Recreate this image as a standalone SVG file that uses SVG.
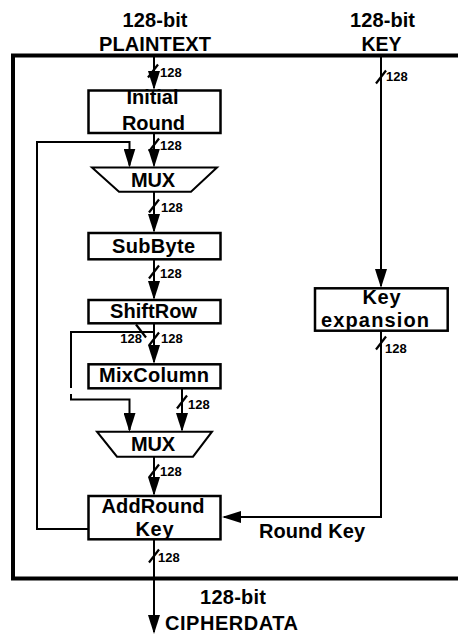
<svg xmlns="http://www.w3.org/2000/svg" width="458" height="635" viewBox="0 0 458 635">
  <style>
    .box{fill:#fff;stroke:#000;stroke-width:2.5}
    .mux{fill:#fff;stroke:#000;stroke-width:2}
    .frame{fill:none;stroke:#000;stroke-width:4}
    .wire{fill:none;stroke:#000;stroke-width:2}
    .arrow{marker-end:url(#ah)}
    .t{font-family:"Liberation Sans",Arial,sans-serif;font-weight:bold;font-size:20px;fill:#000;text-anchor:middle}
    .w{font-family:"Liberation Sans",Arial,sans-serif;font-weight:bold;font-size:13px;fill:#000}
  </style>
  <defs>
    <marker id="ah" viewBox="0 0 19 12" refX="17" refY="6" markerWidth="19" markerHeight="12" markerUnits="userSpaceOnUse" orient="auto">
      <path d="M0,0 L19,6 L0,12 Z" fill="#000"/>
    </marker>
    <!-- bus-width slash -->
    <path id="tick" d="M-5,6.5 L5,-6.5" stroke="#000" stroke-width="2.2" fill="none"/>
  </defs>

  <!-- enclosing frame (open on the right) -->
  <rect id="frame" class="frame" x="13" y="55.5" width="460" height="523"/>

  <!-- titles outside the frame -->
  <g id="plaintext-label">
    <text class="t" x="155" y="27" textLength="65" lengthAdjust="spacing">128-bit</text>
    <text class="t" x="155" y="51" textLength="112" lengthAdjust="spacing">PLAINTEXT</text>
  </g>
  <g id="key-label">
    <text class="t" x="382.5" y="27" textLength="65" lengthAdjust="spacing">128-bit</text>
    <text class="t" x="381.5" y="51" textLength="40" lengthAdjust="spacingAndGlyphs">KEY</text>
  </g>
  <g id="cipher-label">
    <text class="t" x="233" y="604" textLength="66" lengthAdjust="spacing">128-bit</text>
    <text class="t" x="231.5" y="629.5" textLength="133" lengthAdjust="spacing">CIPHERDATA</text>
  </g>

  <!-- connectors -->
  <g id="connectors">
    <path class="wire arrow" d="M154,56 V88"/>
    <path class="wire arrow" d="M154,133 V165.5"/>
    <path class="wire arrow" d="M154,192 V231"/>
    <path class="wire arrow" d="M154,259 V298"/>
    <path class="wire arrow" d="M154,323 V362"/>
    <!-- ShiftRow bypass around MixColumn -->
    <path class="wire" d="M154,332 H71 V388"/>
    <path class="wire arrow" d="M71,394 V399.5 H129.5 V430"/>
    <path class="wire arrow" d="M182,388 V430"/>
    <path class="wire arrow" d="M154,457 V494"/>
    <path class="wire arrow" d="M154,539 V632"/>
    <!-- key path -->
    <path class="wire arrow" d="M381,56 V286"/>
    <path class="wire arrow" d="M381,331 V517 H224"/>
    <!-- round feedback -->
    <path class="wire arrow" d="M88,529 H37 V142 H129.5 V165.5"/>

    <!-- bus widths -->
    <use href="#tick" x="153" y="71"/>
    <use href="#tick" x="154" y="145"/>
    <use href="#tick" x="154" y="206"/>
    <use href="#tick" x="154" y="272"/>
    <use href="#tick" x="154" y="339"/>
    <use href="#tick" transform="translate(141,331) scale(-1,1)"/>
    <use href="#tick" x="182" y="402"/>
    <use href="#tick" x="154" y="471"/>
    <use href="#tick" x="154" y="556"/>
    <use href="#tick" x="381" y="77"/>
    <use href="#tick" x="381" y="343"/>

    <text class="w" x="160" y="77">128</text>
    <text class="w" x="160" y="150">128</text>
    <text class="w" x="161" y="212">128</text>
    <text class="w" x="160" y="278">128</text>
    <text class="w" x="161" y="343">128</text>
    <text class="w" x="142" y="343" text-anchor="end">128</text>
    <text class="w" x="188" y="409">128</text>
    <text class="w" x="160" y="476">128</text>
    <text class="w" x="158" y="562">128</text>
    <text class="w" x="386" y="81">128</text>
    <text class="w" x="385" y="353">128</text>
  </g>

  <!-- round stages -->
  <g id="initial-round">
    <rect class="box" x="88.5" y="90.5" width="132" height="42.5"/>
    <text class="t" x="152.5" y="104" textLength="52" lengthAdjust="spacing">Initial</text>
    <text class="t" x="153.5" y="129.5" textLength="63" lengthAdjust="spacing">Round</text>
  </g>
  <g id="mux1">
    <path class="mux" d="M92,167.5 H217 L191,191.7 H119 Z"/>
    <text class="t" x="153" y="186.5" textLength="44" lengthAdjust="spacing">MUX</text>
  </g>
  <g id="subbyte">
    <rect class="box" x="88.5" y="233" width="132" height="26.3"/>
    <text class="t" x="153.5" y="252.5" textLength="83" lengthAdjust="spacing">SubByte</text>
  </g>
  <g id="shiftrow">
    <rect class="box" x="88.5" y="300" width="132" height="23.3"/>
    <text class="t" x="153.5" y="317.5" textLength="87" lengthAdjust="spacing">ShiftRow</text>
  </g>
  <g id="mixcolumn">
    <rect class="box" x="88.5" y="364.3" width="132" height="24"/>
    <text class="t" x="154" y="382" textLength="110" lengthAdjust="spacing">MixColumn</text>
  </g>
  <g id="mux2">
    <path class="mux" d="M97,431.7 H212 L193,456.7 H117 Z"/>
    <text class="t" x="153" y="450.5" textLength="44" lengthAdjust="spacing">MUX</text>
  </g>
  <g id="addroundkey">
    <rect class="box" x="88.5" y="496" width="132" height="43.3"/>
    <text class="t" x="153" y="512.5" textLength="103" lengthAdjust="spacing">AddRound</text>
    <text class="t" x="154.5" y="536" textLength="38" lengthAdjust="spacing">Key</text>
  </g>
  <g id="key-expansion">
    <rect class="box" x="315" y="288.3" width="132.7" height="42.4"/>
    <text class="t" x="381.5" y="303.5" textLength="38" lengthAdjust="spacing">Key</text>
    <text class="t" x="375" y="326.5" textLength="108" lengthAdjust="spacing">expansion</text>
  </g>
  <g id="round-key-label">
    <text class="t" x="312" y="537.5" textLength="106" lengthAdjust="spacing">Round Key</text>
  </g>
</svg>
